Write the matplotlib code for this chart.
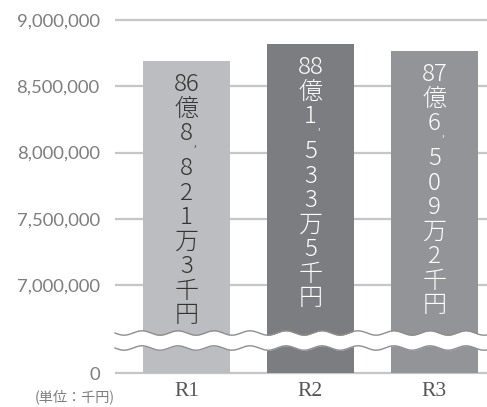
import matplotlib
matplotlib.use("Agg")
import matplotlib.pyplot as plt
import numpy as np
from matplotlib.ticker import FuncFormatter

# ---------------- data ----------------
categories = ["R1", "R2", "R3"]
values = [8688213, 8815335, 8765092]
value_labels = ["86億8,821万3千円", "88億1,533万5千円", "87億6,509万2千円"]
yticks_top = [7000000, 7500000, 8000000, 8500000, 9000000]
yticks_bottom = [0]
unit_label = "(単位：千円)"

# ---------------- style ----------------
bar_colors = ["#bcbdc0", "#7c7d81", "#939497"]
text_colors = ["#333333", "#ffffff", "#ffffff"]
grid_color = "#c6c6c8"
tick_color = "#7d7d7d"
cjk = ["Noto Sans CJK JP", "DejaVu Sans"]

W, H, DPI = 487, 407, 100
fig = plt.figure(figsize=(W / DPI, H / DPI), dpi=DPI)

# layout in pixels
left_px, right_px = 115, 487
top_px, break_px, bottom_px = 6, 340, 381
y9_px, y7_px, zero_px = 20, 285, 373
ppu = (y7_px - y9_px) / 2000000.0


def fr(l, t, r, b):
    return [l / W, 1 - b / H, (r - l) / W, (b - t) / H]


ax_top = fig.add_axes(fr(left_px, top_px, right_px, break_px))
ax_bot = fig.add_axes(fr(left_px, break_px, right_px, bottom_px))

x = np.arange(len(categories))
spacing_px = 124.0
c0_px = 186.5
xlo = -(c0_px - left_px) / spacing_px
xhi = (len(categories) - 1) + (right_px - (c0_px + spacing_px * (len(categories) - 1))) / spacing_px
bar_w = 87 / spacing_px

for ax in (ax_top, ax_bot):
    ax.bar(x, values, width=bar_w, color=bar_colors, zorder=2)
    ax.set_xlim(xlo, xhi)
    for s in ax.spines.values():
        s.set_visible(False)
    ax.yaxis.grid(True, color=grid_color, linewidth=1.6, zorder=1)
    ax.set_axisbelow(True)
    ax.tick_params(axis="both", length=0)
    ax.patch.set_alpha(0)

ax_top.set_ylim(9000000 - (break_px - y9_px) / ppu, 9000000 + (y9_px - top_px) / ppu)
ax_bot.set_ylim(-(bottom_px - zero_px) / ppu, (zero_px - break_px) / ppu)

fmt = FuncFormatter(lambda v, p: f"{v:,.0f}")
ax_top.set_yticks(yticks_top)
ax_bot.set_yticks(yticks_bottom)
for ax in (ax_top, ax_bot):
    ax.yaxis.set_major_formatter(fmt)
    ax.tick_params(axis="y", pad=11, labelsize=13.3, labelcolor=tick_color)
    for lab in ax.get_yticklabels():
        lab.set_fontfamily("Lato")

ax_top.set_xticks([])
ax_bot.set_xticks(x)
ax_bot.set_xticklabels(categories, fontfamily="Liberation Serif", fontsize=15.5,
                       color="#555555")
ax_bot.tick_params(axis="x", pad=1)

# vertical value labels inside bars
pt = 72.0 / DPI
pitch = 24.5
comma_extra = 10.5
first_base = 30.0


def tokens_of(s):
    toks = []
    i = 0
    lead = ""
    while i < len(s) and s[i].isdigit():
        lead += s[i]
        i += 1
    if lead:
        toks.append(lead)
    toks.extend(list(s[i:]))
    return toks


for i, (v, lab) in enumerate(zip(values, value_labels)):
    y = first_base - pitch
    for tok in tokens_of(lab):
        if tok == ",":
            ax_top.annotate(",", xy=(i, v), xytext=(8 * pt, -(y + 6) * pt),
                            textcoords="offset points", ha="center", va="baseline",
                            fontsize=7, color=text_colors[i], family=cjk, zorder=5)
            y += comma_extra
            continue
        y += pitch
        ax_top.annotate(tok, xy=(i, v), xytext=(0, -y * pt),
                        textcoords="offset points", ha="center", va="baseline",
                        fontsize=17.3, color=text_colors[i], family=cjk,
                        fontweight="light", zorder=5)

# wavy break band (decoration), drawn in pixel coordinates
ov = fig.add_axes([0, 0, 1, 1], zorder=10)
ov.set_xlim(0, W)
ov.set_ylim(H, 0)
ov.axis("off")
ov.patch.set_alpha(0)
wx = np.linspace(left_px, right_px, 600)
period, amp = 36.0, 2.2
w1 = 333 + amp * np.sin(2 * np.pi * (wx - left_px) / period)
w2 = 348 + amp * np.sin(2 * np.pi * (wx - left_px) / period)
ov.fill_between(wx, w1, w2, color="white", linewidth=0)
ov.plot(wx, w1, color="#8e8e90", linewidth=1.0)
ov.plot(wx, w2, color="#8e8e90", linewidth=1.0)

fig.text(35 / W, 1 - 397 / H, unit_label, fontsize=10.2, color=tick_color,
         family=cjk, va="center", ha="left")

fig.savefig("out.png", dpi=DPI)
